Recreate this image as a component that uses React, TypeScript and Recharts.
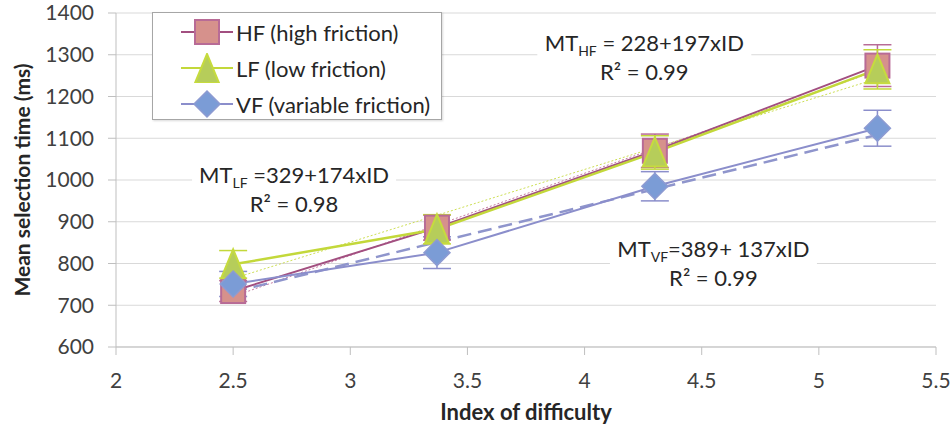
import { LineChart, Line, XAxis, YAxis, CartesianGrid, ErrorBar, ReferenceDot } from "recharts";

document.body.style.margin = "0";

// index of difficulty for the 4 conditions
const idValues = [2.5, 3.37, 4.3, 5.25];

const hfTimes = [734, 886, 1070, 1274];
const hfErrors = [25, 30, 40, 50];
const lfTimes = [798, 882, 1066, 1265];
const lfErrors = [33, 35, 40, 47];
const vfTimes = [751, 826, 985, 1124];
const vfErrors = [30, 38, 35, 43];

// linear fits, start and end
const trendIds = [2.5, 5.25];
const hfTrend = [721, 1262];
const lfTrend = [764, 1243];
const vfTrend = [732, 1108];

const xTicks = [2, 2.5, 3, 3.5, 4, 4.5, 5, 5.5];
const yTicks = [600, 700, 800, 900, 1000, 1100, 1200, 1300, 1400];

const toRows = (times: number[], errors: number[]) =>
  idValues.map((id, i) => ({ id, mt: times[i], err: errors[i] }));
const toTrend = (vals: number[]) => trendIds.map((id, i) => ({ id, mt: vals[i] }));

const hfData = toRows(hfTimes, hfErrors);
const lfData = toRows(lfTimes, lfErrors);
const vfData = toRows(vfTimes, vfErrors);

const FONT = "Lato, 'Open Sans', sans-serif";
const HF = { line: "#a24f80", fill: "#d6918c", edge: "#b86b96" };
const LF = { line: "#c3d83a", fill: "#b6cd5a", edge: "#c6db3e" };
const VF = { line: "#8b8ecb", fill: "#7b9cd6", edge: "#8d9bd2" };

const Square = ({ cx, cy }: any) => (
  <rect x={cx - 12} y={cy - 12} width={24} height={24} fill={HF.fill} stroke={HF.edge} strokeWidth={2} />
);
const Triangle = ({ cx, cy }: any) => (
  <path d={`M${cx},${cy - 15} L${cx + 12},${cy + 14} L${cx - 12},${cy + 14} Z`} fill={LF.fill} stroke={LF.edge} strokeWidth={2} />
);
const Diamond = ({ cx, cy }: any) => (
  <path d={`M${cx},${cy - 13} L${cx + 13},${cy} L${cx},${cy + 13} L${cx - 13},${cy} Z`} fill={VF.fill} stroke={VF.edge} strokeWidth={1.5} />
);

const Annotation = ({ cx, cy, sub, eq, r2, w }: any) => (
  <g>
    <rect x={cx - w / 2} y={cy - 25} width={w} height={62} fill="#ffffff" />
    <text x={cx} y={cy} textAnchor="middle" fontFamily={FONT} fontSize={22} fill="#262626">
      MT<tspan fontSize={14} dy={5}>{sub}</tspan>
      <tspan dy={-5}>{eq}</tspan>
    </text>
    <text x={cx} y={cy + 29} textAnchor="middle" fontFamily={FONT} fontSize={22} fill="#262626">
      {r2}
    </text>
  </g>
);

const legendItems = [
  { label: "HF (high friction)", c: HF, shape: "square" },
  { label: "LF (low friction)", c: LF, shape: "triangle" },
  { label: "VF (variable friction)", c: VF, shape: "diamond" },
];

function LegendBox() {
  return (
    <div
      style={{
        position: "absolute",
        left: 152,
        top: 12,
        width: 290,
        height: 108,
        background: "#fff",
        border: "1px solid #a6a6a6",
        boxShadow: "1px 1px 2px rgba(0,0,0,0.15)",
        paddingTop: 1,
        boxSizing: "border-box",
        fontFamily: FONT,
        fontSize: 22,
        color: "#262626",
      }}
    >
      {legendItems.map((it) => (
        <div key={it.label} style={{ display: "flex", alignItems: "center", height: 36, paddingLeft: 28 }}>
          <svg width={52} height={30} style={{ marginRight: 3 }}>
            <line x1={0} y1={15} x2={52} y2={15} stroke={it.c.line} strokeWidth={2} />
            {it.shape === "square" && <Square cx={26} cy={15} />}
            {it.shape === "triangle" && <Triangle cx={26} cy={16} />}
            {it.shape === "diamond" && <Diamond cx={26} cy={15} />}
          </svg>
          <span>{it.label}</span>
        </div>
      ))}
    </div>
  );
}

export default function App() {
  return (
    <div style={{ position: "relative", width: 952, height: 434, background: "#fff" }}>
      <LineChart width={952} height={434} margin={{ top: 13, right: 16, bottom: 0, left: 0 }}>
        <CartesianGrid stroke="#d9d9d9" vertical={false} />
        <XAxis
          dataKey="id"
          type="number"
          domain={[2, 5.5]}
          ticks={xTicks}
          height={87}
          tickSize={8}
          tickMargin={18}
          stroke="#bfbfbf"
          tick={{ fontSize: 21, fill: "#404040", fontFamily: FONT }}
          label={{
            content: ({ viewBox }: any) => (
              <text x={viewBox.x + viewBox.width / 2} y={420} textAnchor="middle" fontFamily={FONT} fontSize={22} fontWeight="bold" fill="#262626">
                Index of difficulty
              </text>
            ),
          }}
        />
        <YAxis
          type="number"
          domain={[600, 1400]}
          ticks={yTicks}
          width={116}
          tickSize={8}
          tickMargin={14}
          stroke="#bfbfbf"
          tick={{ fontSize: 21, fill: "#404040", fontFamily: FONT }}
          label={{
            content: ({ viewBox }: any) => {
              const cy = viewBox.y + viewBox.height / 2;
              return (
                <text x={30} y={cy} transform={`rotate(-90 30 ${cy})`} textAnchor="middle" fontFamily={FONT} fontSize={21} fontWeight="bold" fill="#262626">
                  Mean selection time (ms)
                </text>
              );
            },
          }}
        />

        <ReferenceDot x={4.255} y={1308} r={0} ifOverflow="visible" shape={(p: any) => <Annotation {...p} sub="HF" eq=" = 228+197xID" r2="R² = 0.99" w={214} />} />
        <ReferenceDot x={2.76} y={994} r={0} ifOverflow="visible" shape={(p: any) => <Annotation {...p} sub="LF" eq=" =329+174xID" r2="R² = 0.98" w={204} />} />
        <ReferenceDot x={4.55} y={815} r={0} ifOverflow="visible" shape={(p: any) => <Annotation {...p} sub="VF" eq="=389+ 137xID" r2="R² = 0.99" w={207} />} />

        <Line data={toTrend(hfTrend)} dataKey="mt" stroke="#c77aa3" strokeWidth={1} strokeDasharray="2 2" dot={false} activeDot={false} isAnimationActive={false} />
        <Line data={toTrend(lfTrend)} dataKey="mt" stroke="#cddf55" strokeWidth={1} strokeDasharray="2 2" dot={false} activeDot={false} isAnimationActive={false} />
        <Line data={toTrend(vfTrend)} dataKey="mt" stroke="#8f95cc" strokeWidth={2.5} strokeDasharray="14 7" dot={false} activeDot={false} isAnimationActive={false} />

        <Line
          data={hfData}
          dataKey="mt"
          name="HF (high friction)"
          stroke={HF.line}
          strokeWidth={2}
          isAnimationActive={false}
          dot={(p: any) => <Square key={`hf-${p.index}`} cx={p.cx} cy={p.cy} />}
          activeDot={false}
        >
          <ErrorBar dataKey="err" direction="y" width={14} stroke={HF.edge} strokeWidth={1.5} />
        </Line>
        <Line
          data={lfData}
          dataKey="mt"
          name="LF (low friction)"
          stroke={LF.line}
          strokeWidth={2.5}
          isAnimationActive={false}
          dot={(p: any) => <Triangle key={`lf-${p.index}`} cx={p.cx} cy={p.cy} />}
          activeDot={false}
        >
          <ErrorBar dataKey="err" direction="y" width={14} stroke={LF.line} strokeWidth={1.5} />
        </Line>
        <Line
          data={vfData}
          dataKey="mt"
          name="VF (variable friction)"
          stroke={VF.line}
          strokeWidth={2}
          isAnimationActive={false}
          dot={(p: any) => <Diamond key={`vf-${p.index}`} cx={p.cx} cy={p.cy} />}
          activeDot={false}
        >
          <ErrorBar dataKey="err" direction="y" width={14} stroke={VF.line} strokeWidth={1.5} />
        </Line>
      </LineChart>
      <LegendBox />
    </div>
  );
}
